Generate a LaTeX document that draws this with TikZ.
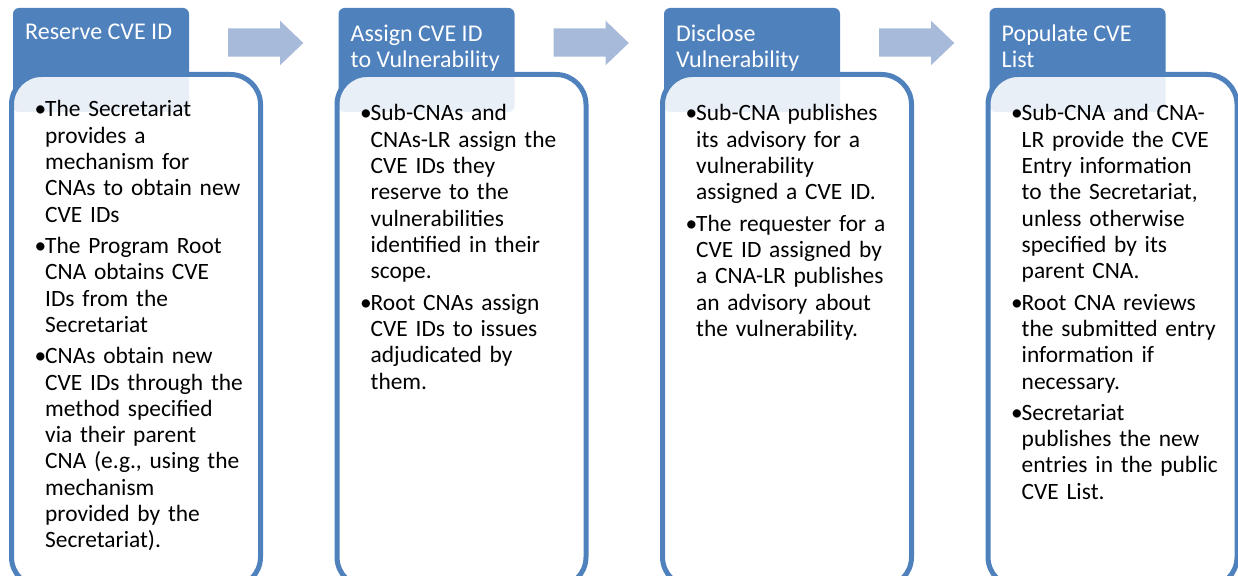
\documentclass[tikz,border=0pt]{standalone}
\usepackage{fontspec}
\setmainfont{Carlito}
\definecolor{cveblue}{RGB}{79,129,189}
\definecolor{cvearrow}{RGB}{168,186,218}
\newcommand\cveitem[1]{\noindent\makebox[10.5pt][l]{•}\begin{tabular}[t]{@{}l@{}}#1\end{tabular}\par}
\newcommand\cvegap{\vspace{5pt}}
\tikzset{
  hdrbox/.style={fill=cveblue,rounded corners=6pt},
  bodybox/.style={draw=cveblue,line width=5pt,fill=white,fill opacity=0.88,rounded corners=30pt},
  flowarrow/.style={fill=cvearrow},
  hdrtext/.style={anchor=base west,text=white,align=left,inner sep=0pt,font=\fontsize{24}{26.3}\selectfont},
  bodytext/.style={anchor=base west,text width=215pt,inner sep=0pt,
    font=\fontsize{23.4}{26.3}\selectfont,execute at begin node={\setlength{\lineskip}{0pt}}}
}
\begin{document}
\begin{tikzpicture}[x=1pt,y=-1pt]
  \useasboundingbox (0,0) rectangle (1238,575);
  \clip (0,0) rectangle (1238,575);
  % header tabs, boxes and arrows
  \foreach \i/\hdr/\hy in {0/{Reserve CVE ID}/39.5,
                           1/{Assign CVE ID\\to Vulnerability}/67.5,
                           2/{Disclose\\Vulnerability}/67.5,
                           3/{Populate CVE\\List}/67.5}
  {
    \pgfmathsetmacro\dx{325.5*\i}
    \fill[hdrbox] (13+\dx,8) rectangle (189+\dx,112);
    \node[hdrtext] (hdr\i) at (25+\dx,\hy) {\hdr};
    \draw[bodybox] (11.5+\dx,74.5) rectangle (260.5+\dx,587);
  }
  \foreach \i in {0,1,2}
  {
    \pgfmathsetmacro\dx{325.5*\i}
    \fill[flowarrow] (228+\dx,28.3) -- (280+\dx,28.3) -- (280+\dx,20.7) -- (303.3+\dx,43)
      -- (280+\dx,65.3) -- (280+\dx,56.7) -- (228+\dx,56.7) -- cycle;
  }
  % bullet texts
  \node[bodytext] (body0) at (34.5,117) {%
    \cveitem{The Secretariat\\provides a\\mechanism for\\CNAs to obtain new\\CVE IDs}\cvegap
    \cveitem{The Program Root\\CNA obtains CVE\\IDs from the\\Secretariat}\cvegap
    \cveitem{CNAs obtain new\\CVE IDs through the\\method specified\\via their parent\\CNA (e.g., using the\\mechanism\\provided by the\\Secretariat).}};
  \node[bodytext] (body1) at (360,121) {%
    \cveitem{Sub-CNAs and\\CNAs-LR assign the\\CVE IDs they\\reserve to the\\vulnerabilities\\identified in their\\scope.}\cvegap
    \cveitem{Root CNAs assign\\CVE IDs to issues\\adjudicated by\\them.}};
  \node[bodytext] (body2) at (685.5,121) {%
    \cveitem{Sub-CNA publishes\\its advisory for a\\vulnerability\\assigned a CVE ID.}\cvegap
    \cveitem{The requester for a\\CVE ID assigned by\\a CNA-LR publishes\\an advisory about\\the vulnerability.}};
  \node[bodytext] (body3) at (1011,121) {%
    \cveitem{Sub-CNA and CNA-\\LR provide the CVE\\Entry information\\to the Secretariat,\\unless otherwise\\specified by its\\parent CNA.}\cvegap
    \cveitem{Root CNA reviews\\the submitted entry\\information if\\necessary.}\cvegap
    \cveitem{Secretariat\\publishes the new\\entries in the public\\CVE List.}};
\end{tikzpicture}
\end{document}
